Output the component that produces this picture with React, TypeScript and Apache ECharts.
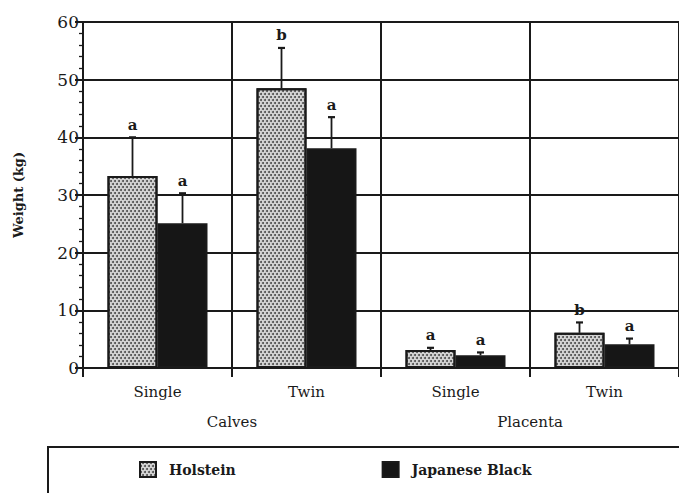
import React, { useEffect, useRef } from 'react';
import * as echarts from 'echarts';

const categories = ['Single', 'Twin', 'Single', 'Twin'];
const groups = ['Calves', 'Placenta'];
const holsteinMean = [33.3, 48.5, 3.1, 6.1];
const holsteinUpper = [40.0, 55.5, 3.5, 7.9];
const holsteinLetters = ['a', 'b', 'a', 'b'];
const japaneseMean = [25.1, 38.1, 2.2, 4.1];
const japaneseUpper = [30.3, 43.5, 2.7, 5.1];
const japaneseLetters = ['a', 'a', 'a', 'a'];

const FONT = 'DejaVu Serif';
const INK = '#1a1a1a';

function errorSeries(name: string, mean: number[], upper: number[], letters: string[], offset: number) {
  return {
    type: 'custom',
    name: name + ' SE',
    z: 5,
    data: mean.map((m, i) => [i, m, upper[i]]),
    renderItem: (params: any, api: any) => {
      const idx = api.value(0);
      const base = api.coord([idx, api.value(1)]);
      const top = api.coord([idx, api.value(2)]);
      const x = base[0] + offset;
      return {
        type: 'group',
        children: [
          { type: 'line', shape: { x1: x, y1: base[1], x2: x, y2: top[1] }, style: { stroke: INK, lineWidth: 1.8 } },
          { type: 'line', shape: { x1: x - 3.5, y1: top[1], x2: x + 3.5, y2: top[1] }, style: { stroke: INK, lineWidth: 2.2 } },
          {
            type: 'text',
            x: x,
            y: top[1] - 5,
            style: { text: letters[params.dataIndex], fill: INK, font: `bold 15px "${FONT}"`, align: 'center', verticalAlign: 'bottom' },
          },
        ],
      };
    },
  };
}

export default function App() {
  const ref = useRef<HTMLDivElement>(null);
  useEffect(() => {
    if (!ref.current) return;
    const chart = echarts.init(ref.current, null, { renderer: 'svg' });
    chart.setOption({
      animation: false,
      backgroundColor: '#ffffff',
      grid: { left: 83, top: 22, width: 600, height: 346 },
      legend: {
        left: 134,
        top: 456,
        itemWidth: 16,
        itemHeight: 15,
        itemGap: 146,
        icon: 'rect',
        textStyle: { fontFamily: FONT, fontWeight: 'bold', fontSize: 14, color: INK, padding: [0, 0, 0, 8] },
        data: ['Holstein', 'Japanese Black'],
      },
      graphic: [
        {
          type: 'rect',
          shape: { x: 48, y: 447, width: 700, height: 100 },
          style: { fill: 'none', stroke: INK, lineWidth: 2 },
          z: -1,
        },
      ],
      xAxis: [
        {
          type: 'category',
          data: categories,
          axisLine: { lineStyle: { color: INK, width: 2 } },
          axisTick: { show: true, length: 9, lineStyle: { color: INK, width: 2 } },
          splitLine: { show: true, lineStyle: { color: INK, width: 2 } },
          axisLabel: { fontFamily: FONT, fontSize: 15, color: INK, margin: 16 },
        },
        {
          type: 'category',
          data: groups,
          position: 'bottom',
          offset: 30,
          axisLine: { show: false },
          axisTick: { show: false },
          axisLabel: { fontFamily: FONT, fontSize: 15, color: INK, margin: 16 },
        },
      ],
      yAxis: {
        type: 'value',
        min: 0,
        max: 60,
        interval: 10,
        name: 'Weight (kg)',
        nameLocation: 'middle',
        nameRotate: 90,
        nameGap: 58,
        nameTextStyle: { fontFamily: FONT, fontWeight: 'bold', fontSize: 13, color: INK },
        axisLine: { show: true, lineStyle: { color: INK, width: 2 } },
        axisTick: { show: true, length: 8, lineStyle: { color: INK, width: 2 } },
        minorTick: { show: true, splitNumber: 5, length: 4, lineStyle: { color: INK, width: 1.3 } },
        splitLine: { show: true, lineStyle: { color: INK, width: 1.8 } },
        axisLabel: { fontFamily: FONT, fontSize: 17, color: INK, margin: 4 },
      },
      series: [
        {
          type: 'bar',
          name: 'Holstein',
          data: holsteinMean,
          barWidth: 50,
          barGap: '0%',
          itemStyle: {
            color: '#d4d4d4',
            borderColor: INK,
            borderWidth: 2,
            decal: {
              symbol: 'circle',
              symbolSize: 1,
              color: 'rgba(30,30,30,0.75)',
              dashArrayX: [[2, 1.5], [0, 1.75, 2, 0]],
              dashArrayY: [2, 1],
              rotation: 0,
            },
          },
        },
        {
          type: 'bar',
          name: 'Japanese Black',
          data: japaneseMean,
          barWidth: 50,
          barGap: '0%',
          itemStyle: { color: '#161616', borderColor: INK, borderWidth: 2 },
        },
        errorSeries('Holstein', holsteinMean, holsteinUpper, holsteinLetters, -25),
        errorSeries('Japanese Black', japaneseMean, japaneseUpper, japaneseLetters, 25),
      ],
    });
    return () => chart.dispose();
  }, []);
  return <div ref={ref} style={{ width: 679, height: 493, position: 'absolute', left: 0, top: 0 }} />;
}
